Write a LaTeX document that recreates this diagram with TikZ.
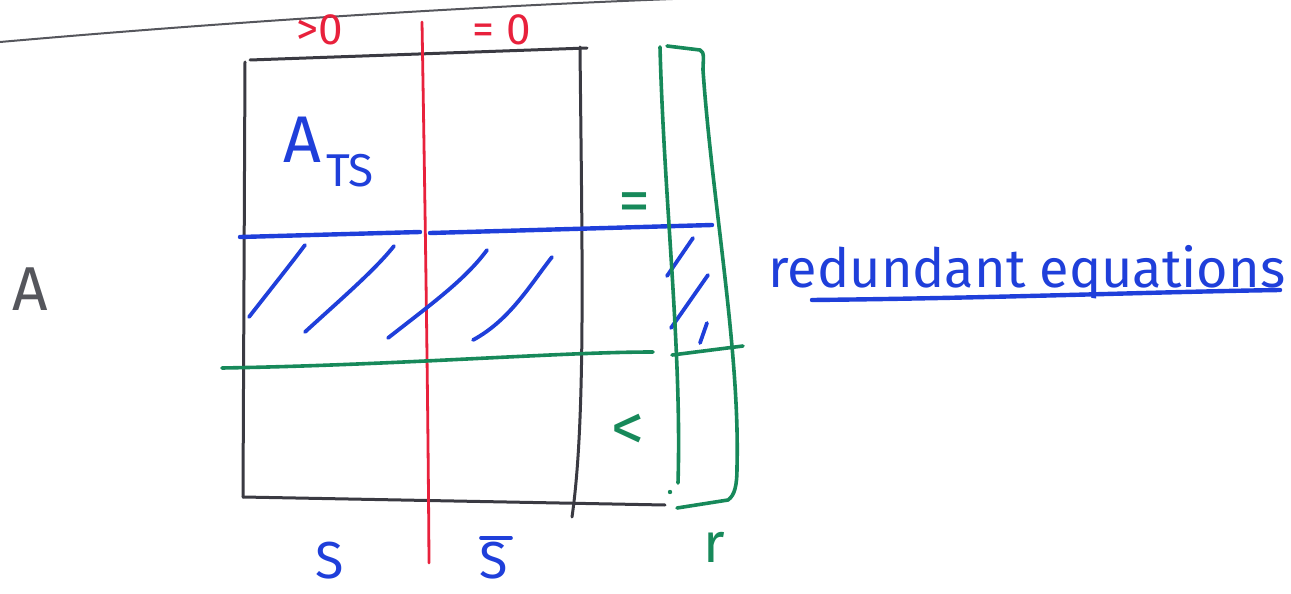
\documentclass[tikz,border=0pt]{standalone}
\usepackage{fontspec}
\setmainfont{Fira Sans}
\definecolor{pen}{HTML}{3A3A42}
\definecolor{rpen}{HTML}{E8213C}
\definecolor{bpen}{HTML}{1F3FDA}
\definecolor{gpen}{HTML}{17895A}
\definecolor{gray1}{HTML}{55565C}
\tikzset{
  blk/.style={draw=pen, line width=3pt, line cap=round, line join=round},
  red/.style={draw=rpen, line width=2.8pt, line cap=round},
  blu/.style={draw=bpen, line width=4.4pt, line cap=round},
  hatch/.style={draw=bpen, line width=3.8pt, line cap=round},
  grn/.style={draw=gpen, line width=3.6pt, line cap=round, line join=round},
  txt/.style={inner sep=0pt, anchor=base},
}
\begin{document}
\begin{tikzpicture}[x=1pt,y=-1pt]
\useasboundingbox (0,0) rectangle (1291,594);
% page edge
\draw[draw=gray1, line width=2pt] (0,42) .. controls (250,20) and (500,5) .. (700,-2);
% matrix box
\draw[blk] (250,60) -- (587,48);
\draw[blk] (245,62) -- (243,497);
\draw[blk] (243,497) -- (665,505);
\draw[blk] (580,47) .. controls (582,250) and (586,420) .. (572,517);
% red separator
\draw[red] (422,22) .. controls (425,200) and (428,400) .. (429,563);
% blue row line
\draw[blu] (240,237) -- (420,232);
\draw[blu] (430,233) -- (712,225);
% hatches
\draw[hatch] (249,317) .. controls (270,290) and (290,265) .. (305,245);
\draw[hatch] (305,332) .. controls (340,300) and (375,270) .. (394,246);
\draw[hatch] (388,338) .. controls (430,305) and (465,280) .. (487,250);
\draw[hatch] (473,340) .. controls (510,320) and (530,285) .. (552,257);
\draw[hatch] (667,276) -- (693,238);
\draw[hatch] (671,328) -- (708,275);
\draw[hatch] (700,343) -- (707,323);
% green row line
\draw[grn] (222,368) .. controls (400,365) and (560,352) .. (653,352);
\draw[grn] (672,355) -- (743,346);
% green vector bracket
\draw[grn] (660,47) .. controls (664,200) and (682,350) .. (678,483);
\draw[grn] (667,46) -- (700,50) .. controls (705,52) and (703,60) .. (703,70)
  .. controls (712,200) and (740,350) .. (737,467)
  .. controls (737,485) and (735,495) .. (728,500) -- (677,508);
\fill[gpen] (670,492) circle (2.2pt);
% labels
\node[txt, text=rpen, font=\fontsize{44}{44}\selectfont] (gt) at (320,45) {>0};
\node[txt, text=rpen, font=\fontsize{44}{44}\selectfont] (eq) at (502,45) {= 0};
\node[txt, text=bpen, font=\fontsize{66}{66}\selectfont] (A) at (302,162) {A};
\node[txt, text=bpen, font=\fontsize{46}{46}\selectfont] (TS) at (350,186) {TS};
\node[txt, text=gpen, font=\fontsize{64}{64}\selectfont] (geq) at (634,222) {=};
\node[txt, text=gpen, font=\fontsize{66}{66}\selectfont] (lt) at (628,450) {<};
\node[txt, text=gpen, font=\fontsize{56}{56}\selectfont] (r) at (714,562) {r};
\node[txt, text=bpen, font=\fontsize{52}{52}\selectfont] (S) at (330,578) {S};
\node[txt, text=bpen, font=\fontsize{52}{52}\selectfont] (Sb) at (494,578) {S};
\draw[blu, line width=3.6pt] (481,538) -- (511,538);
\node[txt, text=gray1, font=\fontsize{62}{62}\selectfont] (bigA) at (30,310) {A};
\node[txt, text=bpen, font=\fontsize{54}{54}\selectfont] (red) at (1027,287) {redundant equations};
\draw[blu] (812,300) .. controls (1000,298) and (1150,292) .. (1280,290);
\end{tikzpicture}
\end{document}
